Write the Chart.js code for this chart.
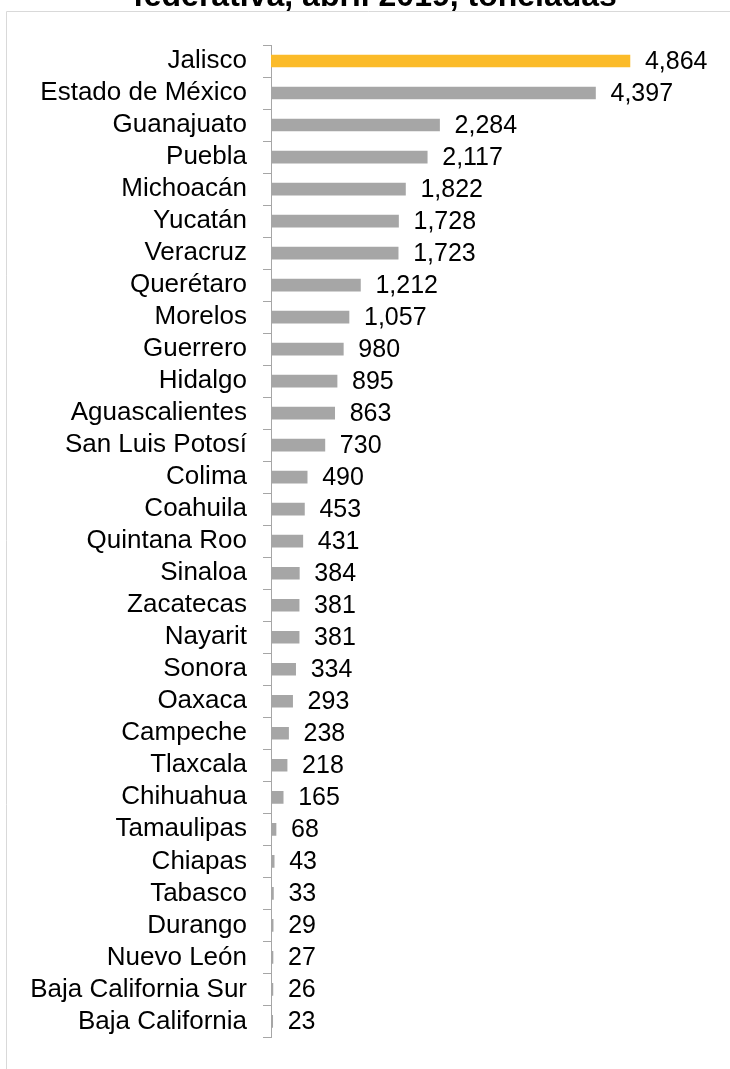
<!DOCTYPE html>
<html>
<head>
<meta charset="utf-8">
<script src="https://cdn.jsdelivr.net/npm/chart.js@4"></script>
<style>
  body { margin: 0; background: #fff; }
</style>
</head>
<body>
<canvas id="chart" width="730" height="1069"></canvas>
<script>
// States and tonnes, April 2019
const states = ["Jalisco", "Estado de México", "Guanajuato", "Puebla", "Michoacán", "Yucatán",
  "Veracruz", "Querétaro", "Morelos", "Guerrero", "Hidalgo", "Aguascalientes", "San Luis Potosí",
  "Colima", "Coahuila", "Quintana Roo", "Sinaloa", "Zacatecas", "Nayarit", "Sonora", "Oaxaca",
  "Campeche", "Tlaxcala", "Chihuahua", "Tamaulipas", "Chiapas", "Tabasco", "Durango",
  "Nuevo León", "Baja California Sur", "Baja California"];
const tonnes = [4864, 4397, 2284, 2117, 1822, 1728, 1723, 1212, 1057, 980, 895, 863, 730,
  490, 453, 431, 384, 381, 381, 334, 293, 238, 218, 165, 68, 43, 33, 29, 27, 26, 23];
const titleText = "federativa, abril 2019, toneladas";

const FONT = "'Liberation Sans', Arial, sans-serif";

// frame lines + clipped title at the top
const framePlugin = {
  id: "frame",
  beforeDraw(chart) {
    const ctx = chart.ctx;
    ctx.save();
    ctx.strokeStyle = "#d9d9d9";
    ctx.lineWidth = 1;
    ctx.beginPath();
    ctx.moveTo(6.5, 1069);
    ctx.lineTo(6.5, 11.5);
    ctx.lineTo(730, 11.5);
    ctx.stroke();
    ctx.fillStyle = "#000";
    ctx.font = "bold 32px " + FONT;
    ctx.textAlign = "center";
    ctx.textBaseline = "alphabetic";
    ctx.fillText(titleText, 375, 6);
    ctx.restore();
  }
};

// value labels to the right of each bar
const valuePlugin = {
  id: "values",
  afterDatasetsDraw(chart) {
    const ctx = chart.ctx;
    const meta = chart.getDatasetMeta(0);
    ctx.save();
    ctx.fillStyle = "#000";
    ctx.font = "25px " + FONT;
    ctx.textAlign = "left";
    ctx.textBaseline = "middle";
    meta.data.forEach((bar, i) => {
      ctx.fillText(tonnes[i].toLocaleString("en-US"), bar.x + 15, bar.y + 1);
    });
    ctx.restore();
  }
};

new Chart(document.getElementById("chart"), {
  type: "bar",
  data: {
    labels: states,
    datasets: [{
      data: tonnes,
      backgroundColor: tonnes.map((_, i) => i === 0 ? "#fbbb29" : "#a6a6a6"),
      barThickness: 12
    }]
  },
  options: {
    indexAxis: "y",
    responsive: false,
    animation: false,
    layout: { padding: { top: 45, bottom: 24, left: 0, right: 0 } },
    plugins: {
      legend: { display: false },
      tooltip: { enabled: false }
    },
    scales: {
      x: { display: false, min: 0, max: 6220 },
      y: {
        afterFit(scale) { scale.width = 271; },
        grid: {
          offset: true,
          drawOnChartArea: false,
          tickLength: 8,
          color: "#a6a6a6"
        },
        border: { color: "#a6a6a6" },
        ticks: {
          color: "#000",
          padding: 16,
          font: { family: FONT, size: 26 },
          autoSkip: false
        }
      }
    }
  },
  plugins: [framePlugin, valuePlugin]
});
</script>
</body>
</html>
